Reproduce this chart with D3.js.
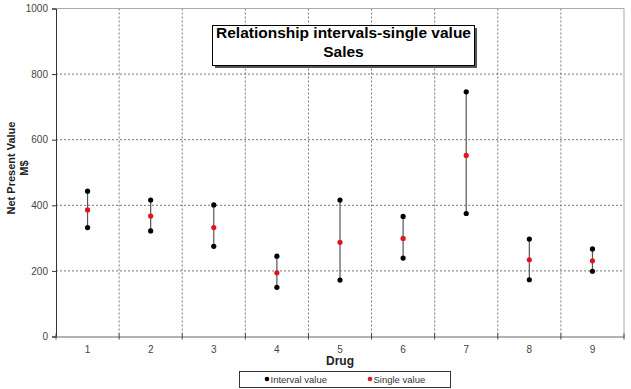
<!DOCTYPE html>
<html>
<head>
<meta charset="UTF-8">
<script src="https://d3js.org/d3.v7.min.js"></script>
<style>
  body { margin: 0; background: #fff; font-family: Arial, "Liberation Sans", sans-serif; }
  .tick text { fill: #444; font-size: 10px; }
</style>
</head>
<body>
<svg id="chart"></svg>
<script>
const drugs = ["1", "2", "3", "4", "5", "6", "7", "8", "9"];
const intervalLow  = [332, 322, 275, 150, 172, 239, 375, 173, 199];
const intervalHigh = [443, 416, 401, 245, 416, 366, 746, 297, 267];
const singleValue  = [386, 367, 332, 194, 287, 299, 552, 234, 231];
const yTicks = [0, 200, 400, 600, 800, 1000];

const W = 631, H = 389;
const margin = {top: 8.5, right: 7, bottom: 52.5, left: 56};

const svg = d3.select("#chart").attr("width", W).attr("height", H);

const x = d3.scaleBand().domain(drugs).range([margin.left, W - margin.right]);
const y = d3.scaleLinear().domain([0, 1000]).range([H - margin.bottom, margin.top]);

// grid
svg.append("g").selectAll("line").data(yTicks.slice(1, -1)).join("line")
  .attr("x1", margin.left).attr("x2", W - margin.right)
  .attr("y1", d => y(d)).attr("y2", d => y(d))
  .attr("stroke", "#777").attr("stroke-dasharray", "2,2");
svg.append("g").selectAll("line").data(drugs.slice(1)).join("line")
  .attr("x1", d => x(d)).attr("x2", d => x(d))
  .attr("y1", y(1000)).attr("y2", y(0))
  .attr("stroke", "#777").attr("stroke-dasharray", "2,2");

// frame top / right
svg.append("path")
  .attr("d", `M${margin.left},${y(1000)}H${W - margin.right}V${y(0)}`)
  .attr("fill", "none").attr("stroke", "#aaa");

// axes
const yAxis = svg.append("g").attr("transform", `translate(${margin.left},0)`)
  .call(d3.axisLeft(y).tickValues(yTicks).tickFormat(d3.format("d")).tickSize(4).tickPadding(4));
yAxis.select(".domain").attr("stroke", "#333");
yAxis.selectAll(".tick line").attr("stroke", "#333");

const xAxis = svg.append("g").attr("transform", `translate(0,${y(0)})`)
  .call(d3.axisBottom(x).tickSize(0).tickPadding(9));
xAxis.select(".domain").attr("stroke", "#666");
xAxis.selectAll(".tick text").attr("dy", "0.71em");
svg.append("g").selectAll("line").data(drugs.concat(["end"])).join("line")
  .attr("x1", (d, i) => margin.left + i * x.bandwidth())
  .attr("x2", (d, i) => margin.left + i * x.bandwidth())
  .attr("y1", y(0) - 3).attr("y2", y(0) + 3)
  .attr("stroke", "#444");

// axis titles
svg.append("text").attr("x", (margin.left + W - margin.right) / 2).attr("y", 365)
  .attr("text-anchor", "middle").attr("font-weight", "bold").attr("font-size", 12)
  .attr("fill", "#222").text("Drug");
const yt = svg.append("text").attr("transform", "translate(15,168) rotate(-90)")
  .attr("text-anchor", "middle").attr("font-weight", "bold").attr("font-size", 11).attr("fill", "#222");
yt.append("tspan").attr("x", 0).attr("y", 0).text("Net Present Value");
yt.append("tspan").attr("x", 0).attr("y", 13).text("M$");

// interval lines and points
const data = drugs.map((d, i) => ({drug: d, lo: intervalLow[i], hi: intervalHigh[i], v: singleValue[i]}));
const cx = d => x(d.drug) + x.bandwidth() / 2;
svg.append("g").selectAll("line").data(data).join("line")
  .attr("x1", cx).attr("x2", cx)
  .attr("y1", d => y(d.lo)).attr("y2", d => y(d.hi))
  .attr("stroke", "#555").attr("stroke-width", 1.2);
svg.append("g").selectAll("circle").data(data.flatMap(d => [{drug: d.drug, val: d.lo}, {drug: d.drug, val: d.hi}]))
  .join("circle").attr("cx", cx).attr("cy", d => y(d.val)).attr("r", 2.6).attr("fill", "#000");
svg.append("g").selectAll("circle").data(data).join("circle")
  .attr("cx", cx).attr("cy", d => y(d.v)).attr("r", 2.6).attr("fill", "#e0141c");

// title box
svg.append("rect").attr("x", 215).attr("y", 28).attr("width", 262).attr("height", 40).attr("fill", "#555");
svg.append("rect").attr("x", 212.5).attr("y", 25.5).attr("width", 262).attr("height", 40)
  .attr("fill", "#fff").attr("stroke", "#000");
svg.append("text").attr("x", 343.5).attr("y", 38).attr("text-anchor", "middle")
  .attr("font-weight", "bold").attr("font-size", 15.5).text("Relationship intervals-single value");
svg.append("text").attr("x", 343.5).attr("y", 57).attr("text-anchor", "middle")
  .attr("font-weight", "bold").attr("font-size", 15.5).text("Sales");

// legend
svg.append("rect").attr("x", 239.5).attr("y", 371.5).attr("width", 211).attr("height", 16)
  .attr("fill", "#fff").attr("stroke", "#333");
const legend = [{label: "Interval value", color: "#000", x: 267}, {label: "Single value", color: "#e0141c", x: 370}];
const lg = svg.append("g").selectAll("g").data(legend).join("g");
lg.append("circle").attr("cx", d => d.x).attr("cy", 379).attr("r", 2.3).attr("fill", d => d.color);
lg.append("text").attr("x", d => d.x + 3.5).attr("y", 382.5).attr("font-size", 9.5)
  .attr("fill", "#333").text(d => d.label);
</script>
</body>
</html>
